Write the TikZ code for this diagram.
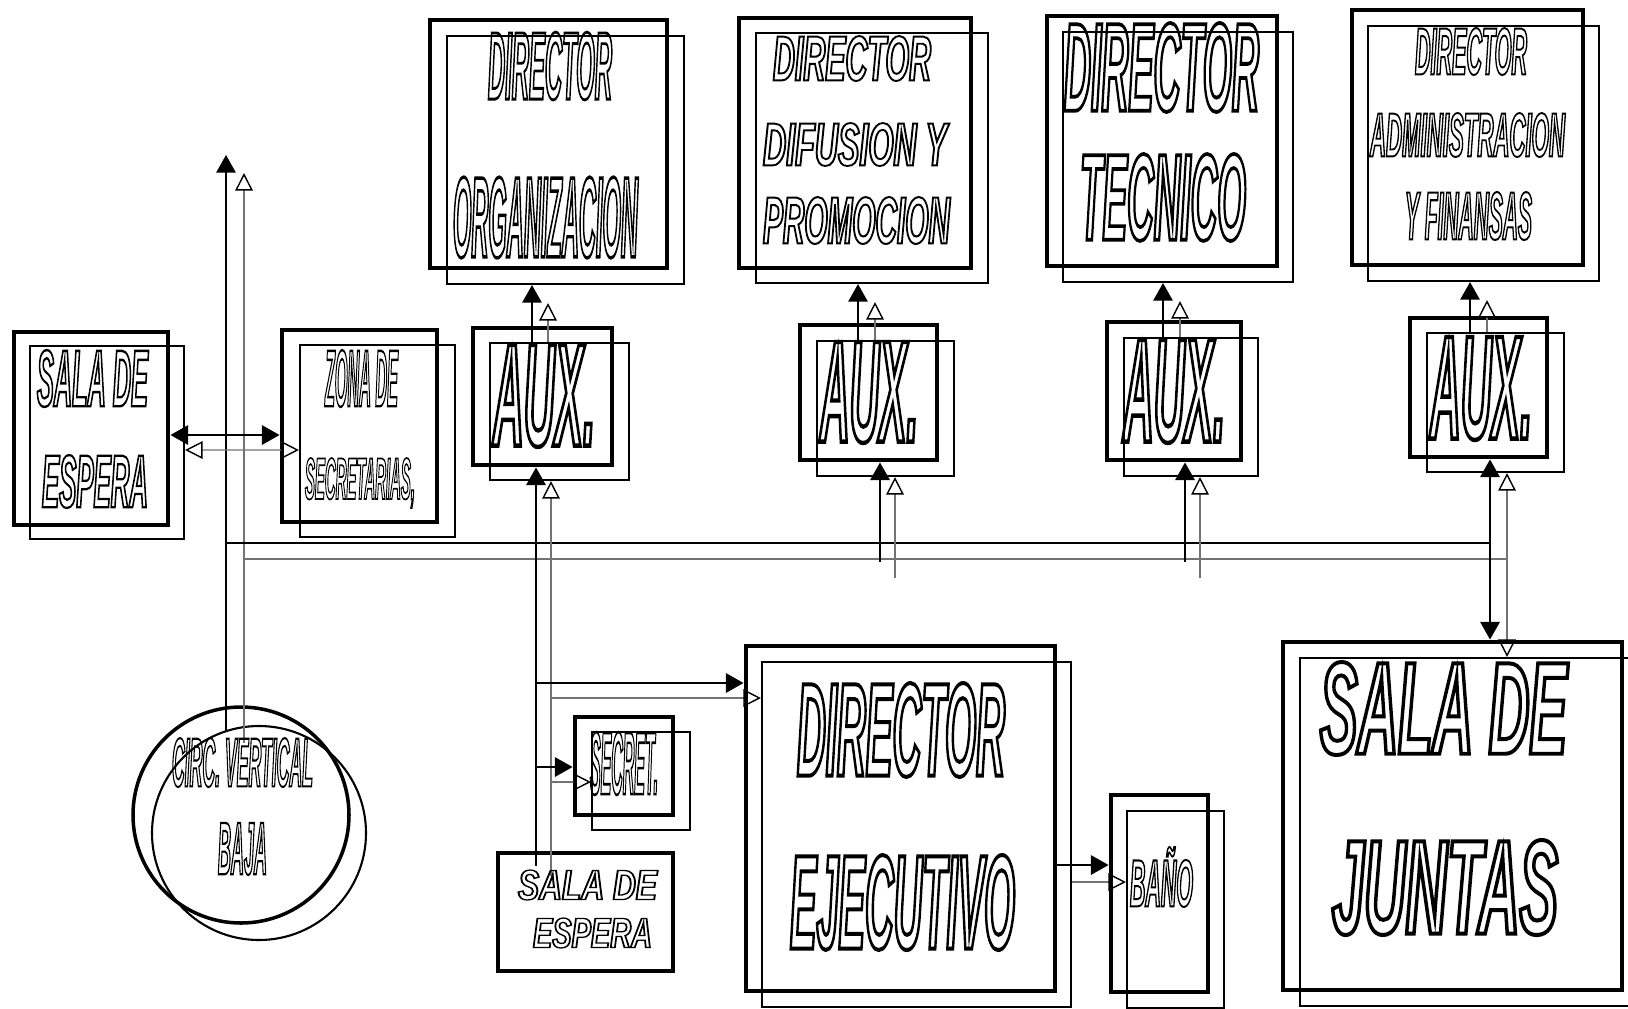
\documentclass[tikz,border=0pt]{standalone}
\usepackage{fontspec}
\usepackage{graphicx}
\setmainfont{Liberation Sans}
\newfontfamily\wafont[FakeStretch=0.5]{Liberation Sans}
\usetikzlibrary{arrows.meta,calc}
\newlength\pxl
\setlength\pxl{0.02cm}
% hollow word-art lettering (stroked glyphs), stretched to w x h px
\newcommand\wa[3]{\resizebox*{#1\pxl}{#2\pxl}{\special{pdf:literal direct q 1 Tr 1.2 w}\wafont\fontsize{40}{44}\selectfont\bfseries\itshape #3\special{pdf:literal direct Q}}}

\begin{document}
\begin{tikzpicture}[x=.02cm,y=-.02cm,
        tipf/.tip={Triangle[length=10pt,width=11pt]},
        tipo/.tip={Triangle[open,length=10pt,width=10pt,color=black]},
        room/.style 2 args={draw,line width=2.8pt,inner sep=0pt,minimum width=#1\pxl,minimum height=#2\pxl},
        ghost/.style 2 args={draw,line width=1.2pt,inner sep=0pt,minimum width=#1\pxl,minimum height=#2\pxl},
        txt/.style={inner sep=0pt},
        bl/.style={line width=1.1pt},
        gb/.style={line width=.8pt,black!55},
        fl/.style={bl,-tipf},
        gl/.style={gb,-tipo}]
        \useasboundingbox(0,0)rectangle(1628,1008);
        % directors
        \node[room={237}{248}](org)at(548.5,144){};
        \node[ghost={237}{248}](orgs)at($(org)+(17,16)$){};
        \node[room={232}{250}](dif)at(855,143){};
        \node[ghost={232}{250}](difs)at($(dif)+(17,15)$){};
        \node[room={230}{250}](tec)at(1162,141){};
        \node[ghost={230}{250}](tecs)at($(tec)+(16,16)$){};
        \node[room={231}{255}](adm)at(1467.5,137.5){};
        \node[ghost={231}{255}](adms)at($(adm)+(16,16)$){};
        % middle row
        \node[room={154}{193}](esp)at(91,428.5){};
        \node[ghost={154}{193}](esps)at($(esp)+(16,14)$){};
        \node[room={155}{192}](sec)at(359.5,426){};
        \node[ghost={155}{192}](secs)at($(sec)+(18,15)$){};
        \node[room={139}{137}](aux1)at(542.5,396.5){};
        \node[ghost={139}{137}](aux1s)at($(aux1)+(17,15)$){};
        \node[room={137}{135}](aux2)at(868.5,392.5){};
        \node[ghost={137}{135}](aux2s)at($(aux2)+(17,16)$){};
        \node[room={134}{138}](aux3)at(1174,391){};
        \node[ghost={134}{138}](aux3s)at($(aux3)+(17,16)$){};
        \node[room={137}{139}](aux4)at(1478.5,387.5){};
        \node[ghost={137}{139}](aux4s)at($(aux4)+(17,15)$){};
        % lower row
        \node[circle,draw,line width=2pt,minimum size=216\pxl,inner sep=0pt](circ)at(241,815){};
        \node[circle,draw,line width=1.2pt,minimum size=214\pxl,inner sep=0pt](circs)at($(circ)+(18,18)$){};
        \node[room={98}{98}](sct)at(624,766){};
        \node[ghost={98}{98}](scts)at($(sct)+(17,15)$){};
        \node[room={175}{118}](esp2)at(585.5,912){};
        \node[room={309}{345}](eje)at(900.5,818.5){};
        \node[ghost={309}{345}](ejes)at($(eje)+(16,16)$){};
        \node[room={97}{197}](ban)at(1159.5,893.5){};
        \node[ghost={97}{197}](bans)at($(ban)+(16,16)$){};
        \node[room={339}{348}](jun)at(1452.5,816){};
        \node[ghost={339}{348}](juns)at($(jun)+(17,16)$){};
        % free ends and bus rows
        \coordinate(cv1)at(226,155);
        \coordinate(cv2)at(244,173);
        \coordinate(bus1)at(0,543);
        \coordinate(bus2)at(0,559);
        \coordinate(lo1)at(0,562);
        \coordinate(lo2)at(0,578);
        % vertical circulation
        \draw[fl]($(circ.north)+(-15,26)$)--(cv1);
        \draw[gl]($(circ.north)+(3,38)$)--(cv2);
        \draw[bl](cv1|-bus1)--(1490,0|-bus1);
        \draw[gb](cv2|-bus2)--(1507,0|-bus2);
        \draw[bl,tipf-tipf]($(esp.east)+(0,6.5)$)--($(sec.west)+(0,9)$);
        \draw[gb,tipo-tipo]($(esps.east)+(0,7.5)$)--($(secs.west)+(0,9)$);
        % aux to directors
        \draw[fl](532,0|-aux1s.north)--(532,0|-orgs.south);
        \draw[gl,shorten >=18\pxl](548,0|-aux1s.north)--(548,0|-orgs.south);
        \draw[fl](858,0|-aux2s.north)--(858,0|-difs.south);
        \draw[gl,shorten >=18\pxl](875,0|-aux2s.north)--(875,0|-difs.south);
        \draw[fl](1163,0|-aux3s.north)--(1163,0|-tecs.south);
        \draw[gl,shorten >=18\pxl](1180,0|-aux3s.north)--(1180,0|-tecs.south);
        \draw[fl](1470,0|-aux4s.north)--(1470,0|-adms.south);
        \draw[gl,shorten >=18\pxl](1487,0|-aux4s.north)--(1487,0|-adms.south);
        % bus to aux
        \draw[fl](880,0|-lo1)--(880,0|-aux2.south);
        \draw[gl](895,0|-lo2)--(895,0|-aux2s.south);
        \draw[fl](1185,0|-lo1)--(1185,0|-aux3.south);
        \draw[gl](1200,0|-lo2)--(1200,0|-aux3s.south);
        \draw[bl,tipf-tipf](1490,0|-aux4.south)--(1490,0|-jun.north);
        \draw[gb,tipo-tipo](1507,0|-aux4s.south)--(1507,0|-juns.north);
        % executive wing
        \draw[fl]($(esp2.north)+(-49.5,15)$)--(536,0|-aux1.south);
        \draw[gl]($(esp2.north)+(-34.5,25)$)--(551,0|-aux1s.south);
        \draw[fl](536,683)--(eje.west|-0,683);
        \draw[gl](551,698)--(ejes.west|-0,698);
        \draw[fl](536,767)--(sct.west|-0,767);
        \draw[gl](551,782)--(scts.west|-0,782);
        \draw[fl](eje.east|-0,865)--(ban.west|-0,865);
        \draw[gl](ejes.east|-0,882)--(bans.west|-0,882);
        % labels
        \node[txt](orgA)at(550,66){\wa{124}{68}{DIRECTOR}};
        \node[txt](orgB)at(545.5,217.5){\wa{185}{81}{ORGANIZACION}};
        \node[txt](difA)at(852,58.5){\wa{158}{45}{DIRECTOR}};
        \node[txt](difB)at(855,144.5){\wa{184}{43}{DIFUSION Y}};
        \node[txt](difC)at(856.5,220.5){\wa{187}{47}{PROMOCION}};
        \node[txt](tecA)at(1161.5,67.5){\wa{195}{89}{DIRECTOR}};
        \node[txt](tecB)at(1163,197.5){\wa{166}{87}{TECNICO}};
        \node[txt](admA)at(1471,51.5){\wa{112}{47}{DIRECTOR}};
        \node[txt](admB)at(1467.5,135){\wa{195}{44}{ADMINISTRACION}};
        \node[txt](admC)at(1468.5,216){\wa{127}{48}{Y FINANSAS}};
        \node[txt](espA)at(92.5,378.5){\wa{111}{57}{SALA DE}};
        \node[txt](espB)at(95,481.5){\wa{106}{53}{ESPERA}};
        \node[txt](secA)at(361.5,378.5){\wa{73}{57}{ZONA DE}};
        \node[txt](secB)at(360,483){\wa{110}{50}{SECRETARIAS,}};
        \node[txt](aux1t)at(544,396){\wa{102}{102}{AUX.}};
        \node[txt](aux2t)at(869,392.5){\wa{98}{101}{AUX.}};
        \node[txt](aux3t)at(1174,391.5){\wa{102}{103}{AUX.}};
        \node[txt](aux4t)at(1481,388.5){\wa{102}{103}{AUX.}};
        \node[txt](circA)at(242.5,762.5){\wa{141}{49}{CIRC. VERTICAL}};
        \node[txt](circB)at(242.5,849){\wa{49}{52}{BAJA}};
        \node[txt](sctt)at(624,763.5){\wa{68}{63}{SECRET.}};
        \node[txt](esp2A)at(587.5,885){\wa{139}{30}{SALA DE}};
        \node[txt](esp2B)at(592.5,933){\wa{119}{30}{ESPERA}};
        \node[txt](ejeA)at(901,730){\wa{208}{94}{DIRECTOR}};
        \node[txt](ejeB)at(902.5,902.5){\wa{225}{95}{EJECUTIVO}};
        \node[txt](bant)at(1161.5,877){\wa{63}{60}{BAÑO}};
        \node[txt](junA)at(1443.5,708.5){\wa{247}{93}{SALA DE}};
        \node[txt](junB)at(1445,887.5){\wa{226}{95}{JUNTAS}};
      \end{tikzpicture}
\end{document}
